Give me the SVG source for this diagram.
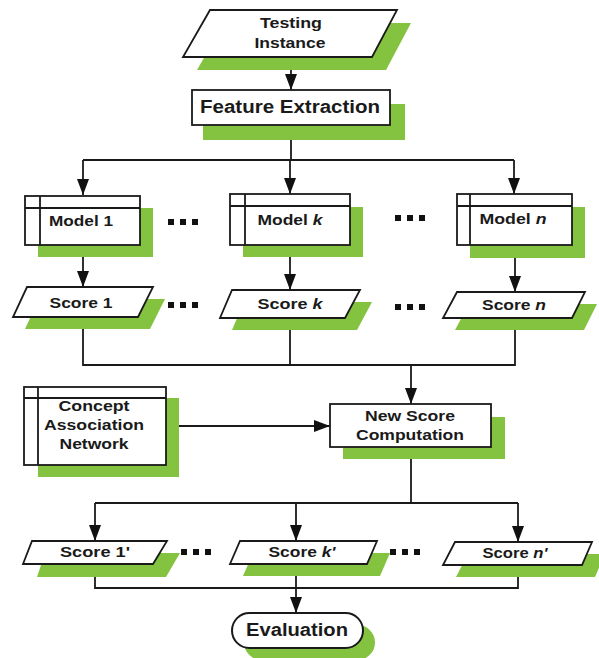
<svg xmlns="http://www.w3.org/2000/svg" width="599" height="658" viewBox="0 0 599 658">
<defs>
<style>
.sh{fill:#84c33f;stroke:none}
.bx{fill:#fff;stroke:#1a1a1a;stroke-width:1.8}
.ln{fill:none;stroke:#1a1a1a;stroke-width:1.8}
.t{font-family:"Liberation Sans",Arial,sans-serif;font-weight:bold;font-size:15.5px;fill:#1a1a1a;text-anchor:middle}
.tl{font-size:17.5px}
.dot{fill:#111}
</style>
<marker id="ah" viewBox="0 0 16 12" refX="16" refY="6" markerWidth="16" markerHeight="12" markerUnits="userSpaceOnUse" orient="auto">
<path d="M0,0 L16,6 L0,12 Z" fill="#111"/>
</marker>
</defs>
<rect width="599" height="658" fill="#fff"/>

<g id="connectors">
<path class="ln" d="M291,57 V90" marker-end="url(#ah)"/>
<path class="ln" d="M291,125 V160 M83,160 H514"/>
<path class="ln" d="M83,160 V195" marker-end="url(#ah)"/>
<path class="ln" d="M290,160 V194" marker-end="url(#ah)"/>
<path class="ln" d="M514,160 V194" marker-end="url(#ah)"/>
<path class="ln" d="M83,245 V287" marker-end="url(#ah)"/>
<path class="ln" d="M290,245 V290" marker-end="url(#ah)"/>
<path class="ln" d="M515,245 V292" marker-end="url(#ah)"/>
<path class="ln" d="M83,317 V365 H515 V318 M290,318 V365"/>
<path class="ln" d="M411,365 V404" marker-end="url(#ah)"/>
<path class="ln" d="M166,426 H330" marker-end="url(#ah)"/>
<path class="ln" d="M411,447 V503 M95,503 H518"/>
<path class="ln" d="M95,503 V541" marker-end="url(#ah)"/>
<path class="ln" d="M296,503 V541" marker-end="url(#ah)"/>
<path class="ln" d="M518,503 V542" marker-end="url(#ah)"/>
<path class="ln" d="M95,564 V588 H518 V565"/>
<path class="ln" d="M296,564 V613" marker-end="url(#ah)"/>
</g>

<g id="testing-instance">
<polygon class="sh" points="224,23 411,23 386,70 197,70"/>
<polygon class="bx" points="210,10 397,10 372,57 183,57"/>
<text class="t" x="291" y="28" textLength="62" lengthAdjust="spacingAndGlyphs">Testing</text>
<text class="t" x="290" y="48" textLength="71" lengthAdjust="spacingAndGlyphs">Instance</text>
</g>

<g id="feature-extraction">
<rect class="sh" x="203" y="104" width="202" height="36"/>
<rect class="bx" x="192" y="90" width="198" height="35"/>
<text class="t tl" x="290" y="113" textLength="180" lengthAdjust="spacingAndGlyphs">Feature Extraction</text>
</g>

<g id="model-1">
<rect class="sh" x="38" y="208" width="115" height="49"/>
<rect class="bx" x="25" y="196" width="115" height="49"/>
<path class="ln" d="M25,208 H140 M40,196 V245"/>
<text class="t" x="81" y="226" textLength="64" lengthAdjust="spacingAndGlyphs">Model 1</text>
</g>

<g id="model-k">
<rect class="sh" x="243" y="207" width="120" height="50"/>
<rect class="bx" x="230" y="194" width="120" height="51"/>
<path class="ln" d="M230,206 H350 M245,194 V245"/>
<text class="t" x="290" y="225" textLength="65" lengthAdjust="spacingAndGlyphs">Model <tspan font-style="italic">k</tspan></text>
</g>

<g id="model-n">
<rect class="sh" x="470" y="207" width="115" height="51"/>
<rect class="bx" x="457" y="194" width="115" height="51"/>
<path class="ln" d="M457,206 H572 M470,194 V245"/>
<text class="t" x="513" y="224" textLength="67" lengthAdjust="spacingAndGlyphs">Model <tspan font-style="italic">n</tspan></text>
</g>

<g id="dots">
<rect class="dot" x="168" y="219" width="6" height="6"/>
<rect class="dot" x="180" y="219" width="6" height="6"/>
<rect class="dot" x="192" y="219" width="6" height="6"/>
<rect class="dot" x="395" y="215" width="6" height="6"/>
<rect class="dot" x="407" y="215" width="6" height="6"/>
<rect class="dot" x="419" y="215" width="6" height="6"/>
<rect class="dot" x="168" y="302" width="6" height="6"/>
<rect class="dot" x="180" y="302" width="6" height="6"/>
<rect class="dot" x="192" y="302" width="6" height="6"/>
<rect class="dot" x="395" y="304" width="6" height="6"/>
<rect class="dot" x="407" y="304" width="6" height="6"/>
<rect class="dot" x="419" y="304" width="6" height="6"/>
<rect class="dot" x="181" y="549" width="6" height="6"/>
<rect class="dot" x="193" y="549" width="6" height="6"/>
<rect class="dot" x="205" y="549" width="6" height="6"/>
<rect class="dot" x="390" y="549" width="6" height="6"/>
<rect class="dot" x="402" y="549" width="6" height="6"/>
<rect class="dot" x="414" y="549" width="6" height="6"/>
</g>

<g id="score-1">
<polygon class="sh" points="39,299 165,299 150,329 25,329"/>
<polygon class="bx" points="27,287 153,287 138,317 13,317"/>
<text class="t" x="81" y="308" textLength="63" lengthAdjust="spacingAndGlyphs">Score 1</text>
</g>

<g id="score-k">
<polygon class="sh" points="244,302 372,302 357,330 232,330"/>
<polygon class="bx" points="232,290 360,290 345,318 220,318"/>
<text class="t" x="290" y="309" textLength="65" lengthAdjust="spacingAndGlyphs">Score <tspan font-style="italic">k</tspan></text>
</g>

<g id="score-n">
<polygon class="sh" points="469,304 597,304 584,330 455,330"/>
<polygon class="bx" points="457,292 585,292 572,318 443,318"/>
<text class="t" x="514" y="310" textLength="64" lengthAdjust="spacingAndGlyphs">Score <tspan font-style="italic">n</tspan></text>
</g>

<g id="concept-association-network">
<rect class="sh" x="38" y="398" width="141" height="79"/>
<rect class="bx" x="24" y="387" width="142" height="78"/>
<path class="ln" d="M24,398 H166 M38,387 V465"/>
<text class="t" x="94" y="411" textLength="71" lengthAdjust="spacingAndGlyphs">Concept</text>
<text class="t" x="94" y="430" textLength="100" lengthAdjust="spacingAndGlyphs">Association</text>
<text class="t" x="94" y="449" textLength="69" lengthAdjust="spacingAndGlyphs">Network</text>
</g>

<g id="new-score-computation">
<rect class="sh" x="343" y="417" width="162" height="42"/>
<rect class="bx" x="330" y="404" width="161" height="43"/>
<text class="t" x="410" y="421" textLength="90" lengthAdjust="spacingAndGlyphs">New Score</text>
<text class="t" x="410" y="440" textLength="108" lengthAdjust="spacingAndGlyphs">Computation</text>
</g>

<g id="score-1p">
<polygon class="sh" points="45,553 180,553 166,577 37,577"/>
<polygon class="bx" points="32,541 167,541 153,564 23,564"/>
<text class="t" x="95" y="557" textLength="70" lengthAdjust="spacingAndGlyphs">Score 1'</text>
</g>

<g id="score-kp">
<polygon class="sh" points="253,553 390,553 380,576 243,576"/>
<polygon class="bx" points="240,541 377,541 367,564 230,564"/>
<text class="t" x="302" y="557" textLength="67" lengthAdjust="spacingAndGlyphs">Score <tspan font-style="italic">k'</tspan></text>
</g>

<g id="score-np">
<polygon class="sh" points="468,554 605,554 595,577 456,577"/>
<polygon class="bx" points="455,542 592,542 582,565 443,565"/>
<text class="t" x="515" y="558" textLength="65" lengthAdjust="spacingAndGlyphs">Score <tspan font-style="italic">n'</tspan></text>
</g>

<g id="evaluation">
<rect class="sh" x="244" y="625" width="131" height="35" rx="17.5"/>
<rect class="bx" x="232" y="613" width="131" height="35" rx="17.5" style="stroke-width:2"/>
<text class="t tl" x="297" y="636" textLength="102" lengthAdjust="spacingAndGlyphs">Evaluation</text>
</g>
</svg>
